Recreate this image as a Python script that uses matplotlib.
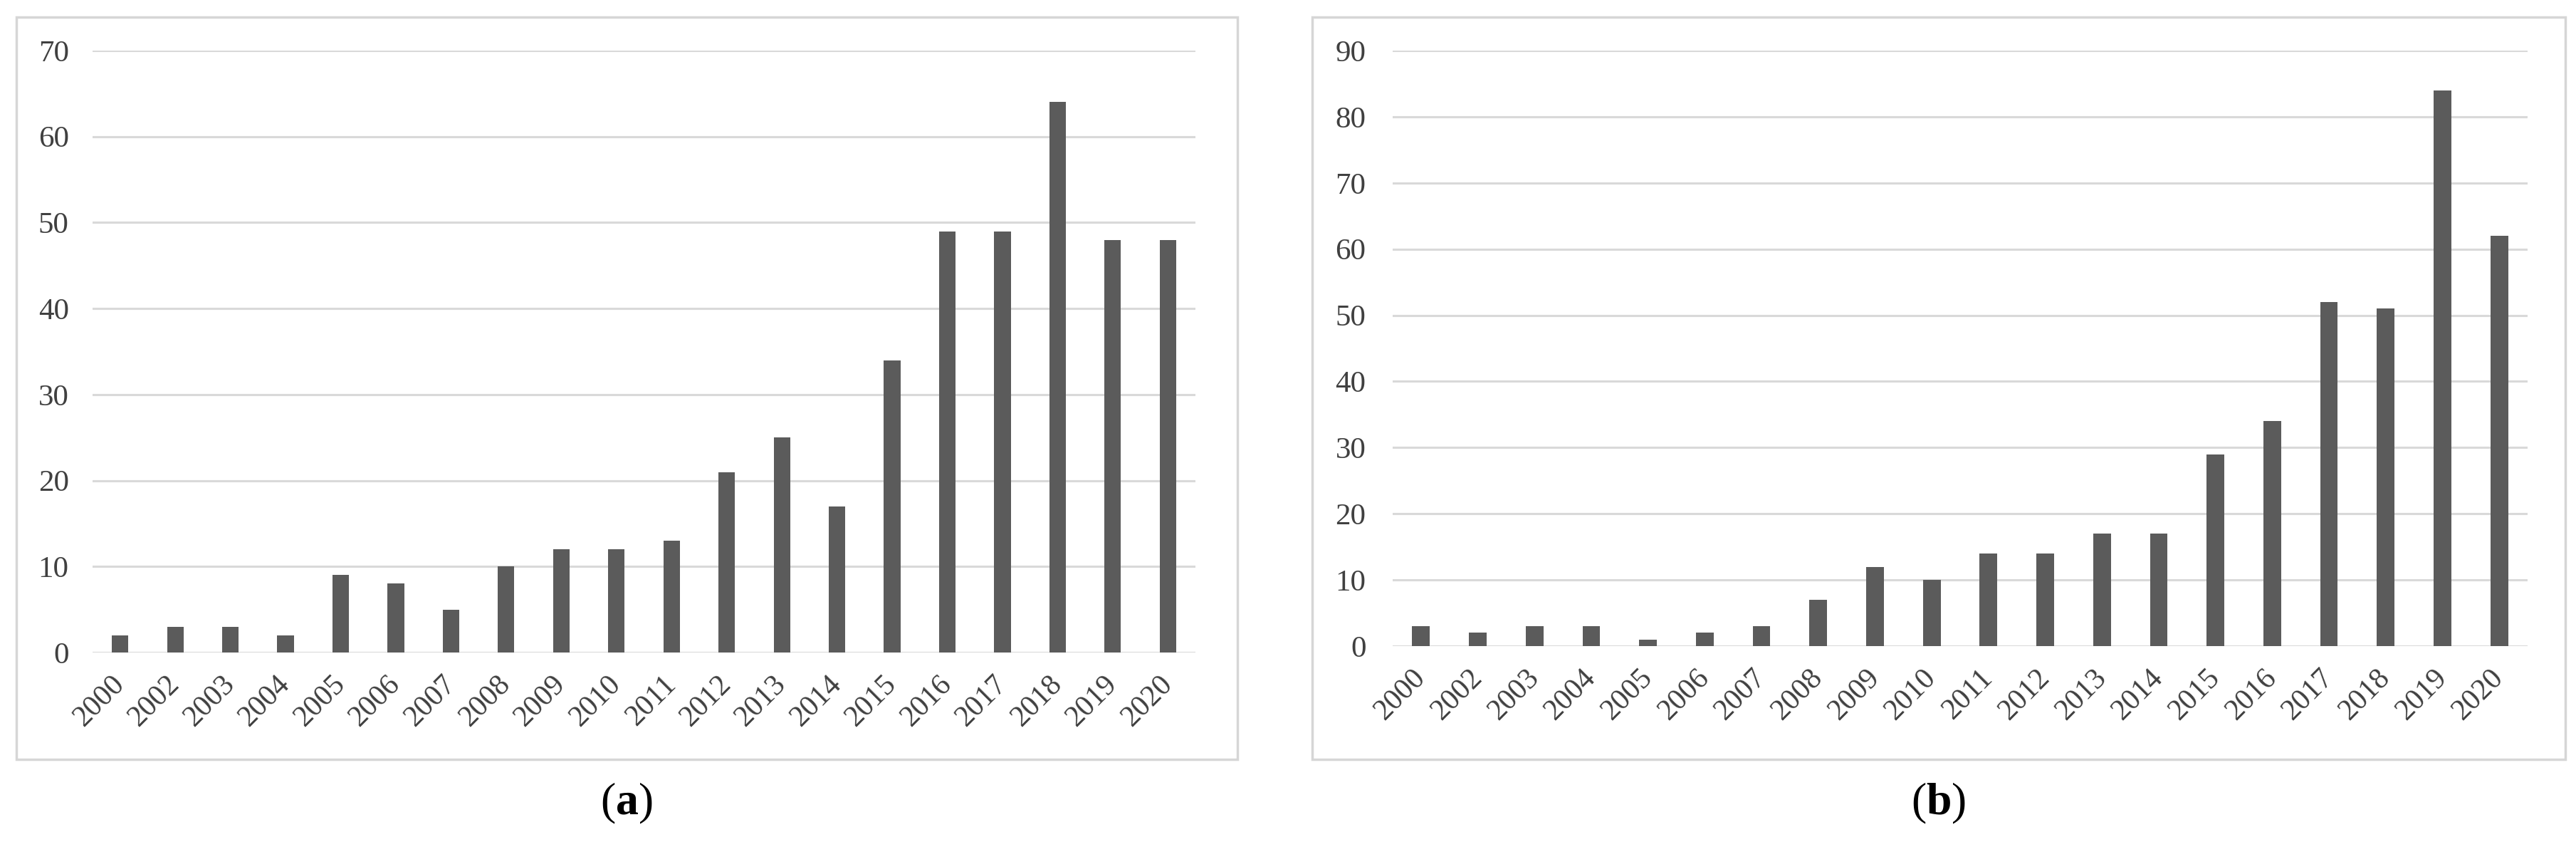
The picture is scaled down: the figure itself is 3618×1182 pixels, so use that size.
import matplotlib.pyplot as plt
from matplotlib.patches import Rectangle

plt.rcParams['font.family'] = ['Liberation Serif', 'DejaVu Serif']
plt.rcParams['mathtext.fontset'] = 'custom'
plt.rcParams['mathtext.rm'] = 'Liberation Serif'
plt.rcParams['mathtext.bf'] = 'Liberation Serif:bold'

years = ['2000', '2002', '2003', '2004', '2005', '2006', '2007', '2008', '2009', '2010',
         '2011', '2012', '2013', '2014', '2015', '2016', '2017', '2018', '2019', '2020']

# (a)
counts_a = [2, 3, 3, 2, 9, 8, 5, 10, 12, 12, 13, 21, 25, 17, 34, 49, 49, 64, 48, 48]
yticks_a = [0, 10, 20, 30, 40, 50, 60, 70]

# (b)
counts_b = [3, 2, 3, 3, 1, 2, 3, 7, 12, 10, 14, 14, 17, 17, 29, 34, 52, 51, 84, 62]
yticks_b = [0, 10, 20, 30, 40, 50, 60, 70, 80, 90]

bar_color = '#5b5b5b'
grid_color = '#d9d9d9'
text_color = '#404040'

W, H = 3618, 1182
fig = plt.figure(figsize=(W / 100, H / 100), dpi=100)


def px_axes(x0, x1, y_top, y_bottom):
    return fig.add_axes([x0 / W, 1 - y_bottom / H, (x1 - x0) / W, (y_bottom - y_top) / H])


def draw_panel(ax, values, ticks, width, ypad):
    ax.bar(range(len(years)), values, width=width, color=bar_color, zorder=3)
    ax.set_xlim(-0.5, len(years) - 0.5)
    ax.set_ylim(ticks[0], ticks[-1])
    ax.set_yticks(ticks)
    ax.set_yticklabels([str(t) for t in ticks], fontsize=31, color=text_color)
    ax.set_xticks(range(len(years)))
    ax.set_xticklabels(years, fontsize=30, color=text_color, rotation=45,
                       ha='right', va='center', rotation_mode='anchor')
    ax.tick_params(axis='x', length=0, pad=28)
    ax.tick_params(axis='y', length=0, pad=ypad)
    ax.grid(axis='y', color=grid_color, linewidth=2.2, zorder=0)
    for s in ax.spines.values():
        s.set_visible(False)
    ax.patch.set_alpha(0)


ax_a = px_axes(130, 1679, 71, 916)
draw_panel(ax_a, counts_a, yticks_a, 0.30, 24)

ax_b = px_axes(1956, 3550, 71, 907)
draw_panel(ax_b, counts_b, yticks_b, 0.31, 27)

# panel frames
for x0, x1 in [(23, 1738), (1843, 3603)]:
    fig.patches.append(Rectangle((x0 / W, 1 - 1066 / H), (x1 - x0) / W, (1066 - 24) / H,
                                 transform=fig.transFigure, fill=False,
                                 edgecolor='#d6d6d6', linewidth=2.5))

fig.text(880 / W, 1 - 1128 / H, r'($\mathbf{a}$)', fontsize=46, ha='center', va='center')
fig.text(2723 / W, 1 - 1128 / H, r'($\mathbf{b}$)', fontsize=46, ha='center', va='center')

fig.savefig('out.png', dpi=100, facecolor='white')
